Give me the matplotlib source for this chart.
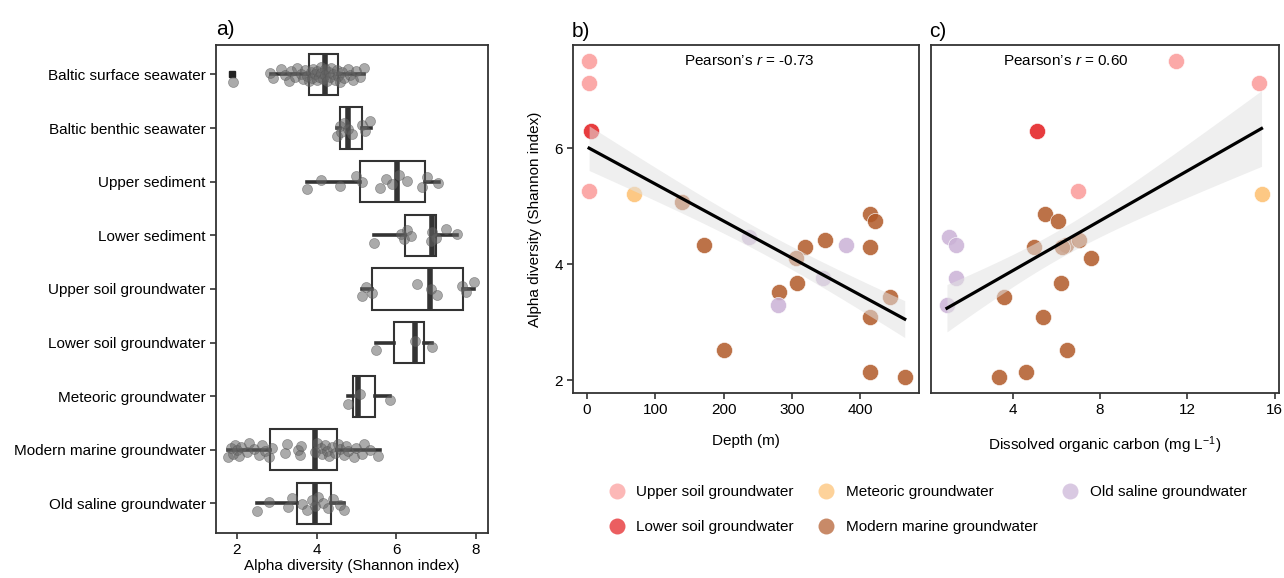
import numpy as np
import matplotlib
matplotlib.use('Agg')
import matplotlib.pyplot as plt
from matplotlib.lines import Line2D

plt.rcParams['font.family'] = ['Liberation Sans', 'DejaVu Sans']
plt.rcParams['mathtext.fontset'] = 'custom'
plt.rcParams['mathtext.rm'] = 'Liberation Sans'
plt.rcParams['mathtext.it'] = 'Liberation Sans:italic'

##### Data: panel a (boxplots) ##################################################

habitats = ['Baltic surface seawater', 'Baltic benthic seawater', 'Upper sediment',
            'Lower sediment', 'Upper soil groundwater', 'Lower soil groundwater',
            'Meteoric groundwater', 'Modern marine groundwater', 'Old saline groundwater']

# box statistics
box_q1 = [3.80, 4.58, 5.10, 6.22, 5.40, 5.95, 4.92, 2.83, 3.50]
box_med = [4.20, 4.78, 6.03, 6.90, 6.85, 6.48, 5.05, 3.95, 3.95]
box_q3 = [4.55, 5.13, 6.73, 7.00, 7.68, 6.70, 5.47, 4.50, 4.37]
box_lo = [2.85, 4.50, 3.75, 5.43, 5.13, 5.48, 4.78, 1.78, 2.50]
box_hi = [5.18, 5.37, 7.08, 7.53, 7.95, 6.90, 5.85, 5.58, 4.68]
box_out = [[1.88], [], [], [], [], [], [], [], []]

# individual samples (jittered points)
baltic_surface = [1.90, 2.83, 2.90, 3.10, 3.20, 3.30, 3.35, 3.45, 3.50, 3.60, 3.65, 3.70,
                  3.75, 3.80, 3.85, 3.88, 3.90, 3.95, 4.00, 4.02, 4.05, 4.10, 4.12, 4.15,
                  4.20, 4.22, 4.25, 4.30, 4.33, 4.35, 4.40, 4.45, 4.50, 4.55, 4.60, 4.65,
                  4.70, 4.78, 4.85, 4.92, 5.00, 5.10, 5.20]
baltic_benthic = [4.50, 4.58, 4.62, 4.70, 4.78, 4.90, 5.15, 5.22, 5.35]
upper_sediment = [3.75, 4.10, 4.58, 5.00, 5.15, 5.58, 5.75, 5.90, 6.08, 6.28, 6.65, 6.78, 7.05]
lower_sediment = [5.43, 6.13, 6.20, 6.28, 6.38, 6.88, 6.90, 7.00, 7.25, 7.53]
upper_soil = [5.15, 5.25, 5.40, 6.53, 6.88, 7.03, 7.65, 7.75, 7.95]
lower_soil = [5.48, 6.48, 6.90]
meteoric = [4.78, 5.08, 5.85]
modern_marine = [1.78, 1.85, 1.90, 1.95, 2.00, 2.05, 2.10, 2.25, 2.30, 2.43, 2.55, 2.63,
                 2.70, 2.80, 2.88, 3.20, 3.25, 3.53, 3.58, 3.60, 3.95, 4.00, 4.10, 4.13,
                 4.20, 4.25, 4.30, 4.38, 4.45, 4.55, 4.60, 4.70, 4.75, 4.80, 4.95, 5.00,
                 5.13, 5.20, 5.33, 5.55]
old_saline = [2.50, 2.80, 3.28, 3.38, 3.63, 3.75, 3.88, 3.95, 4.03, 4.15, 4.28, 4.40, 4.58, 4.68]
samples = [baltic_surface, baltic_benthic, upper_sediment, lower_sediment, upper_soil,
           lower_soil, meteoric, modern_marine, old_saline]

##### Data: panels b and c (groundwater samples) ################################

groups = ['Upper soil groundwater', 'Lower soil groundwater', 'Meteoric groundwater',
          'Modern marine groundwater', 'Old saline groundwater']
group_colors = ['#FB9A99', '#E31A1C', '#FDBF6F', '#B15928', '#CAB2D6']

gw_group = [0, 0, 0,
            1,
            2,
            3, 3, 3, 3, 3, 3, 3, 3, 3, 3, 3, 3, 3, 3, 3,
            4, 4, 4, 4]
gw_depth = [3, 3, 3,
            6,
            69,
            139, 171, 200, 281, 308, 319, 306, 348, 414, 421, 414, 414, 444, 414, 465,
            237, 279, 379, 345]
gw_alpha = [7.50, 7.13, 5.27,
            6.29,
            5.22,
            5.07, 4.33, 2.53, 3.53, 3.67, 4.29, 4.10, 4.41, 4.86, 4.74, 4.29, 3.09, 3.43, 2.14, 2.05,
            4.47, 3.29, 4.33, 3.76]
gw_doc = [11.5, 15.3, 7.0,
          5.1,
          15.4,
          np.nan, 6.45, 6.5, np.nan, 6.2, 5.0, 7.6, 7.05, 5.5, 6.1, 6.27, 5.4, 3.6, 4.6, 3.4,
          1.1, 1.0, 1.4, 1.4]

pearson_depth = '-0.73'
pearson_doc = '0.60'

gw_group = np.array(gw_group)
gw_depth = np.array(gw_depth, dtype=float)
gw_alpha = np.array(gw_alpha)
gw_doc = np.array(gw_doc, dtype=float)

##### Figure ####################################################################

fs = 11
fig = plt.figure(figsize=(12.84, 5.78), dpi=100)
ax_a = fig.add_axes([0.1682, 0.0779, 0.2118, 0.8443])
ax_b = fig.add_axes([0.4463, 0.3200, 0.2695, 0.6021])
ax_c = fig.add_axes([0.7251, 0.3200, 0.2710, 0.6021])

dark = '#333333'
for ax in (ax_a, ax_b, ax_c):
    for sp in ax.spines.values():
        sp.set_color(dark)
        sp.set_linewidth(1.3)
    ax.tick_params(colors=dark, labelcolor='black', labelsize=fs, length=4, width=1.2)

# panel a
pos = np.arange(len(habitats))[::-1]
stats = []
for i in range(len(habitats)):
    stats.append(dict(med=box_med[i], q1=box_q1[i], q3=box_q3[i],
                      whislo=box_lo[i], whishi=box_hi[i], fliers=box_out[i]))
ax_a.bxp(stats, positions=pos, vert=False, widths=0.77, patch_artist=True,
         boxprops=dict(facecolor='white', edgecolor=dark, linewidth=1.5),
         medianprops=dict(color=dark, linewidth=4, solid_capstyle='butt'),
         whiskerprops=dict(color=dark, linewidth=2.6),
         capprops=dict(linewidth=0),
         flierprops=dict(marker='s', markersize=5, markerfacecolor='#222222',
                         markeredgecolor='#222222'),
         zorder=1)
for i, vals in enumerate(samples):
    n = len(vals)
    jit = ((np.arange(n) * 0.618034) % 1 - 0.5) * 0.28
    ax_a.scatter(vals, pos[i] + jit, s=52, color='#666666', alpha=0.55,
                 edgecolors='#555555', linewidths=0.5, zorder=3)
ax_a.set_yticks(pos)
ax_a.set_yticklabels(habitats)
ax_a.set_ylim(-0.55, len(habitats) - 0.45)
ax_a.set_xlim(1.475, 8.3)
ax_a.set_xticks([2, 4, 6, 8])
ax_a.set_xlabel('Alpha diversity (Shannon index)', fontsize=fs, labelpad=1)
ax_a.text(0, 1.012, 'a)', transform=ax_a.transAxes, fontsize=15, ha='left', va='bottom')


def scatter_fit(ax, x, y):
    for g in range(len(groups)):
        m = gw_group == g
        ax.scatter(x[m], y[m], s=135, color=group_colors[g], alpha=0.85,
                   edgecolors='white', linewidths=0.5, zorder=2)
    ok = ~np.isnan(x)
    xs, ys = x[ok], y[ok]
    n = len(xs)
    slope, icpt = np.polyfit(xs, ys, 1)
    xx = np.linspace(xs.min(), xs.max(), 100)
    yy = icpt + slope * xx
    resid = ys - (icpt + slope * xs)
    s = np.sqrt(np.sum(resid ** 2) / (n - 2))
    se = s * np.sqrt(1 / n + (xx - xs.mean()) ** 2 / np.sum((xs - xs.mean()) ** 2))
    ax.fill_between(xx, yy - se, yy + se, color='#E2E2E2', alpha=0.55,
                    linewidth=0, zorder=3)
    ax.plot(xx, yy, color='black', linewidth=2.3, zorder=4)


# panel b
scatter_fit(ax_b, gw_depth, gw_alpha)
ax_b.set_xlim(-20.5, 486)
ax_b.set_ylim(1.78, 7.78)
ax_b.set_xticks([0, 100, 200, 300, 400])
ax_b.set_yticks([2, 4, 6])
ax_b.set_xlabel('Depth (m)', fontsize=fs, labelpad=12)
ax_b.set_ylabel('Alpha diversity (Shannon index)', fontsize=fs, labelpad=9)
ax_b.text(0.51, 0.955, 'Pearson\u2019s $r$ = ' + pearson_depth, transform=ax_b.transAxes,
          fontsize=fs, ha='center', va='center')
ax_b.text(-0.005, 1.012, 'b)', transform=ax_b.transAxes, fontsize=15, ha='left', va='bottom')

# panel c
scatter_fit(ax_c, gw_doc, gw_alpha)
ax_c.set_xlim(0.27, 16.2)
ax_c.set_ylim(1.78, 7.78)
ax_c.set_xticks([4, 8, 12, 16])
ax_c.set_yticks([])
ax_c.set_xlabel('Dissolved organic carbon (mg L$^{-1}$)', fontsize=fs, labelpad=12)
ax_c.text(0.386, 0.955, 'Pearson\u2019s $r$ = ' + pearson_doc, transform=ax_c.transAxes,
          fontsize=fs, ha='center', va='center')
ax_c.text(-0.005, 1.012, 'c)', transform=ax_c.transAxes, fontsize=15, ha='left', va='bottom')

# legend
handles = [Line2D([], [], marker='o', linestyle='', markersize=11.5, markerfacecolor=c,
                  markeredgecolor='none', alpha=0.7) for c in group_colors]
fig.legend(handles, groups, ncol=3, loc='center', bbox_to_anchor=(0.722, 0.118),
           frameon=False, fontsize=fs, handletextpad=0.7, columnspacing=1.5,
           labelspacing=1.35, handlelength=1.2)

fig.savefig('out.png', dpi=100)
